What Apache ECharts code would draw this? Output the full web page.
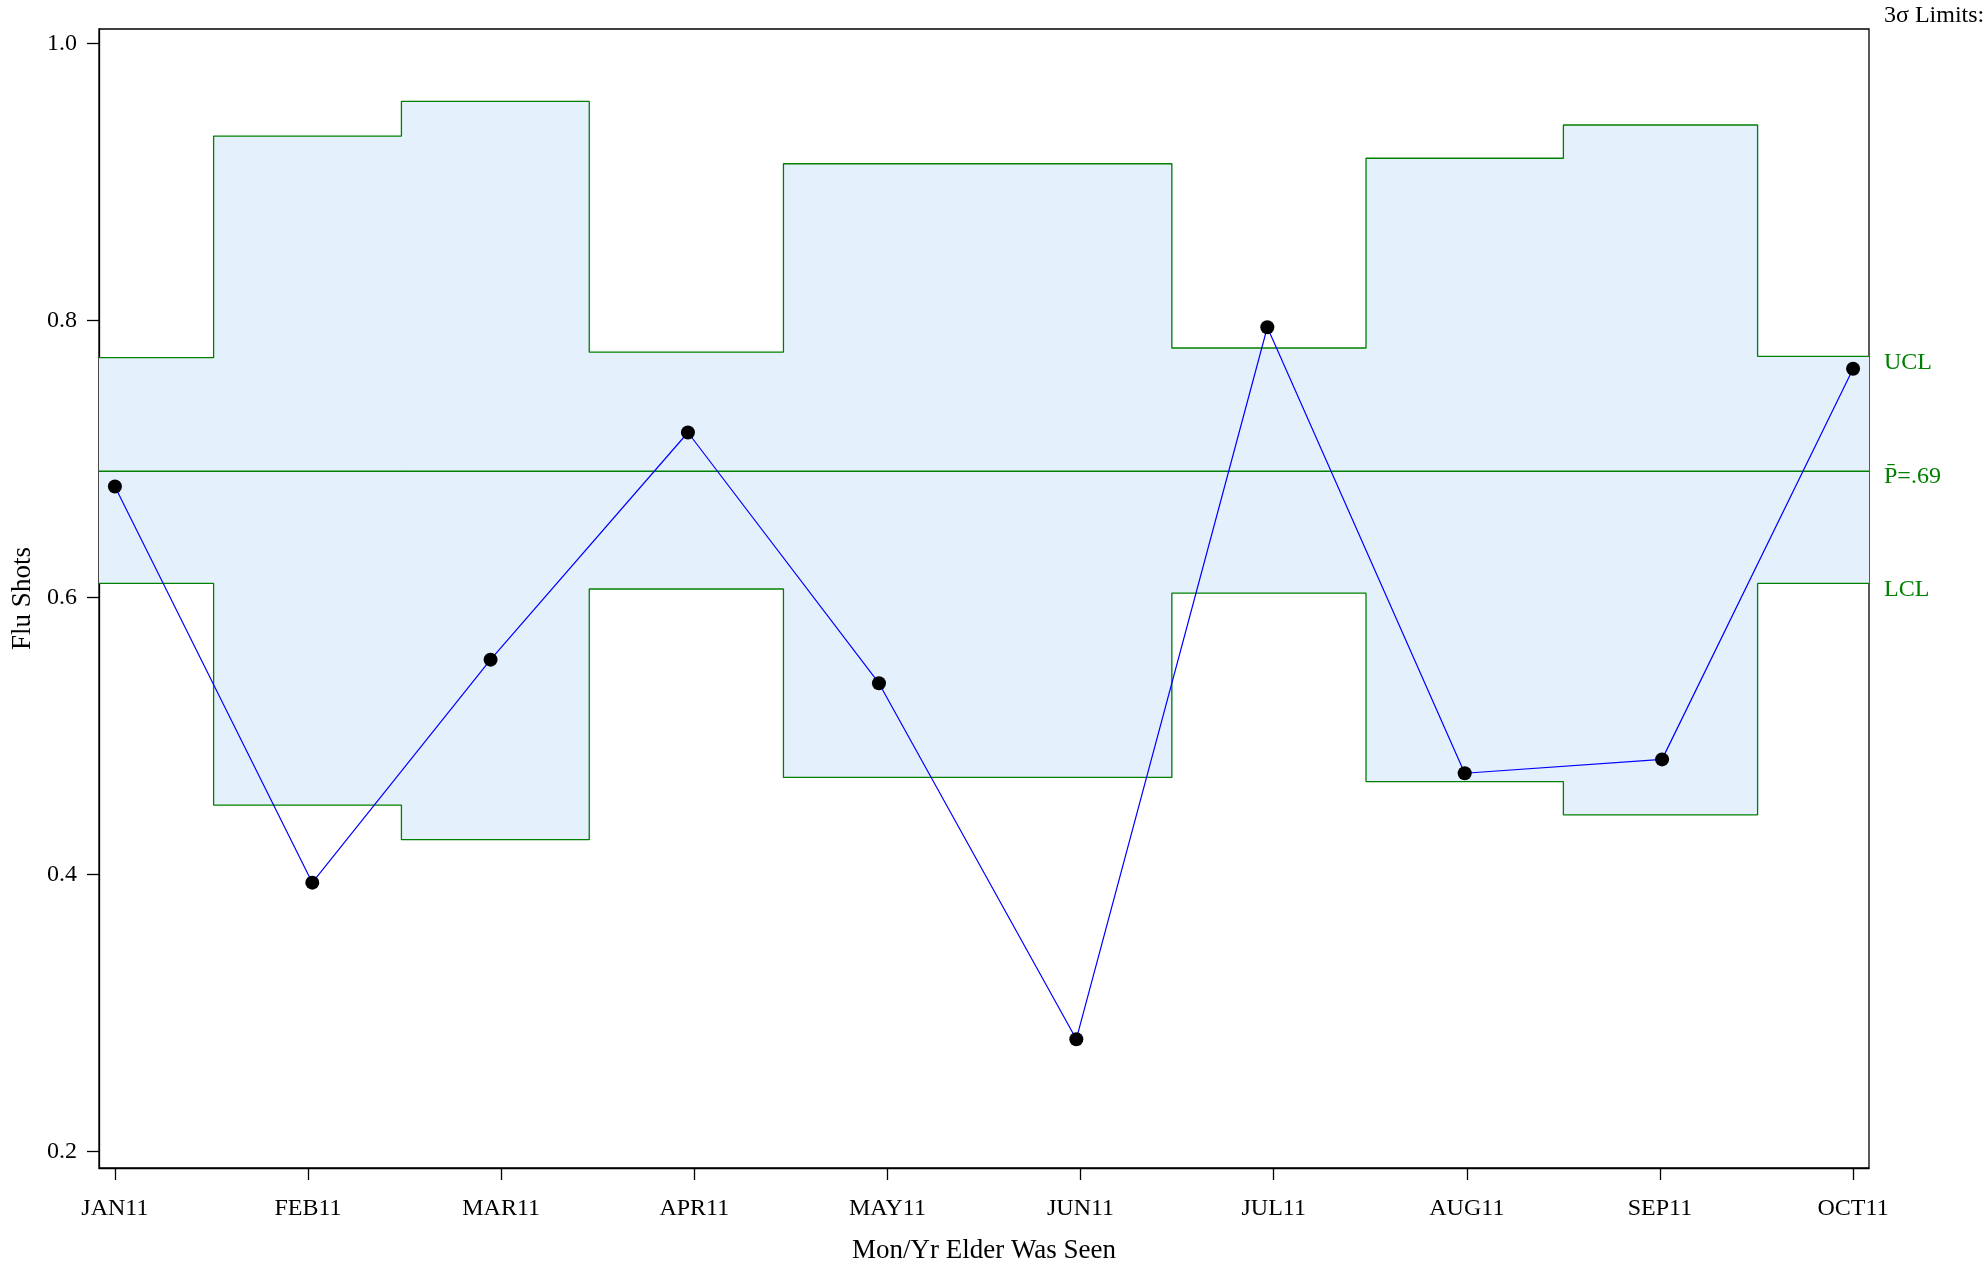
<!DOCTYPE html>
<html>
<head>
<meta charset="utf-8">
<script src="https://cdn.jsdelivr.net/npm/echarts@6/dist/echarts.min.js"></script>
<style>
html,body{margin:0;padding:0;background:#fff;}
#chart{width:1986px;height:1261px;}
</style>
</head>
<body>
<div id="chart"></div>
<script>
// ---- data ----
const months = ['JAN11','FEB11','MAR11','APR11','MAY11','JUN11','JUL11','AUG11','SEP11','OCT11'];
const proportion = [0.680, 0.394, 0.555, 0.719, 0.538, 0.281, 0.795, 0.473, 0.483, 0.765];
const ucl = [0.773, 0.933, 0.958, 0.777, 0.913, 0.913, 0.780, 0.917, 0.941, 0.774];
const lcl = [0.610, 0.450, 0.425, 0.606, 0.470, 0.470, 0.603, 0.467, 0.443, 0.610];
const centerP = 0.691;
const yTicks = [0.2, 0.4, 0.6, 0.8, 1.0];
const yMin = 0.188, yMax = 1.0103;

// x positions: day offset of the first of each month from 1 Jan 2011
const DAY = 86400000;
const dayOf = months.map((m, i) => (Date.UTC(2011, i, 1) - Date.UTC(2011, 0, 1)) / DAY);
const firstDay = dayOf[0], lastDay = dayOf[dayOf.length - 1];
const xMin = firstDay - 2.5, xMax = lastDay + 2.5;
// tick marks are evenly spread between first and last month
const tickStep = (lastDay - firstDay) / (months.length - 1);
const xTicks = months.map((m, i) => firstDay + i * tickStep);

function stepData(vals) {
  const d = [[xMin, vals[0]]];
  vals.forEach((v, i) => d.push([dayOf[i], v]));
  d.push([xMax, vals[vals.length - 1]]);
  return d;
}
const lclData = stepData(lcl);
const uclData = stepData(ucl);
const bandData = months.map((m, i) => [dayOf[i], lcl[i], ucl[i], i]);
const pointData = proportion.map((v, i) => [dayOf[i], v]);

const FONT = 'Liberation Serif';
const GREEN = '#008000';

const chart = echarts.init(document.getElementById('chart'), null, {renderer: 'canvas'});
chart.setOption({
  backgroundColor: '#fff',
  animation: false,
  textStyle: {fontFamily: FONT},
  grid: {left: 99, top: 29, right: 117, bottom: 93, containLabel: false, outerBoundsMode: 'none',
    show: true, borderColor: '#000', borderWidth: 1.3, backgroundColor: 'transparent'},
  xAxis: {
    type: 'value', min: xMin, max: xMax,
    name: 'Mon/Yr Elder Was Seen', nameLocation: 'middle', nameGap: 69,
    nameTextStyle: {fontFamily: FONT, fontSize: 27, color: '#000'},
    splitLine: {show: false},
    axisLine: {show: true, onZero: false, lineStyle: {color: '#000', width: 1.3}},
    axisTick: {show: true, length: 12, lineStyle: {color: '#000', width: 1.3}, customValues: xTicks},
    axisLabel: {fontFamily: FONT, fontSize: 24, color: '#000', margin: 29, customValues: xTicks,
      formatter: v => months[Math.round((v - firstDay) / tickStep)] || ''}
  },
  yAxis: {
    type: 'value', min: yMin, max: yMax,
    name: 'Flu Shots', nameLocation: 'middle', nameGap: 62,
    nameTextStyle: {fontFamily: FONT, fontSize: 27, color: '#000'},
    splitLine: {show: false},
    axisLine: {show: true, onZero: false, lineStyle: {color: '#000', width: 1.3}},
    axisTick: {show: true, length: 12, lineStyle: {color: '#000', width: 1.3}, customValues: yTicks},
    axisLabel: {fontFamily: FONT, fontSize: 24, color: '#000', margin: 22, customValues: yTicks,
      padding: [7, 0, 0, 0], formatter: v => v.toFixed(1)}
  },
  graphic: [{
    type: 'text', left: 1884, top: 4,
    style: {text: '3σ Limits:', fontFamily: FONT, fontSize: 24, fill: '#000'}
  }],
  series: [
    {
      name: 'Band', type: 'custom', data: bandData, z: 1, silent: true,
      encode: {x: 0, y: [1, 2]},
      renderItem: function (params, api) {
        const i = api.value(3);
        const x0 = i === 0 ? xMin : (dayOf[i - 1] + dayOf[i]) / 2;
        const x1 = i === months.length - 1 ? xMax : (dayOf[i] + dayOf[i + 1]) / 2;
        const p0 = api.coord([x0, api.value(2)]);
        const p1 = api.coord([x1, api.value(1)]);
        const extra = (i < months.length - 1) ? 1 : 0;
        return {
          type: 'rect',
          shape: {x: p0[0], y: p0[1], width: p1[0] - p0[0] + extra, height: p1[1] - p0[1]},
          style: {fill: '#e4f0fc', stroke: null}
        };
      }
    },
    {
      name: 'LCL', type: 'line', step: 'middle', data: lclData,
      symbol: 'none', lineStyle: {color: GREEN, width: 1.3}, z: 3,
      endLabel: {show: true, formatter: 'LCL', fontFamily: FONT, fontSize: 24, color: GREEN, distance: 15, offset: [0, 6]}
    },
    {
      name: 'UCL', type: 'line', step: 'middle', data: uclData,
      symbol: 'none', lineStyle: {color: GREEN, width: 1.3}, z: 3,
      endLabel: {show: true, formatter: 'UCL', fontFamily: FONT, fontSize: 24, color: GREEN, distance: 15, offset: [0, 6]}
    },
    {
      name: 'Center', type: 'line', data: [[xMin, centerP], [xMax, centerP]],
      symbol: 'none', lineStyle: {color: GREEN, width: 1.3}, z: 3,
      endLabel: {show: true, formatter: 'P\u0304=.69', fontFamily: FONT, fontSize: 24, color: GREEN, distance: 15, offset: [0, 5]}
    },
    {
      name: 'Flu Shots', type: 'line', data: pointData,
      symbol: 'circle', symbolSize: 14,
      lineStyle: {color: '#0000ff', width: 1.2},
      itemStyle: {color: '#000', borderWidth: 0}, z: 5
    }
  ]
});
</script>
</body>
</html>
